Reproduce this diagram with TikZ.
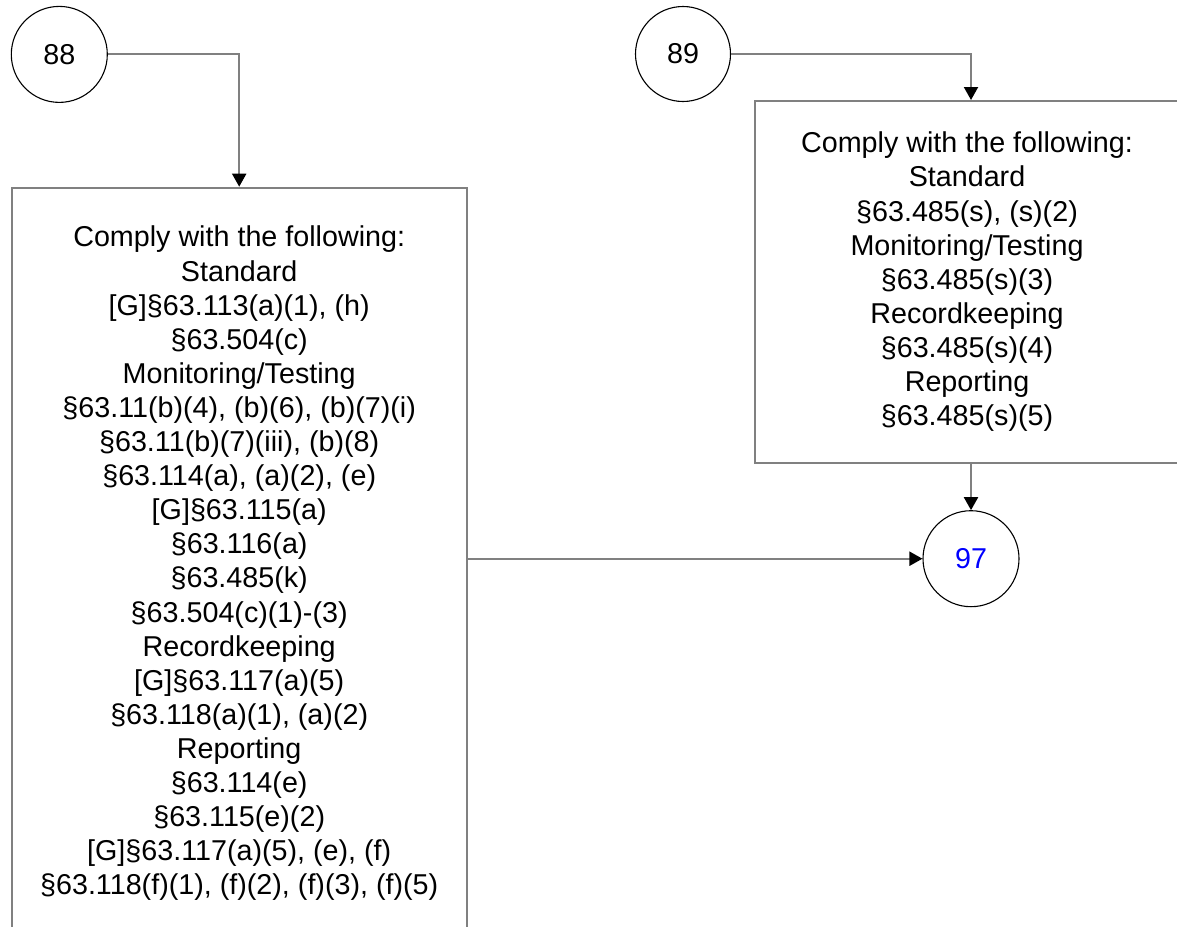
\documentclass[tikz,border=0pt]{standalone}
\usepackage{fontspec}
\setmainfont{Liberation Sans}
\usetikzlibrary{arrows.meta,calc}
\begin{document}
\begin{tikzpicture}[x=1pt,y=-1pt,
  every node/.style={font=\fontsize{28.7}{34.1}\selectfont},
  circ/.style={circle,draw=black,line width=1.1pt,minimum size=96pt,inner sep=0pt},
  box/.style={draw=gray,line width=2pt,align=center,inner sep=0pt},
  conn/.style={draw=gray,line width=2pt,-{Triangle[length=13pt,width=14pt,black]}}]
\useasboundingbox (0,0) rectangle (1177,926);
\clip (0,0) rectangle (1177,926);
\node[circ] (c88) at (59.3,54.4) {88};
\node[circ,minimum size=95pt] (c89) at (683,54) {89};
\node[circ,text=blue] (c97) at (971,558.7) {97};
\node[box,minimum width=455pt,minimum height=751.6pt] (left) at (239.2,563.5) {Comply with the following:\\Standard\\{}[G]§63.113(a)(1), (h)\\§63.504(c)\\Monitoring/Testing\\§63.11(b)(4), (b)(6), (b)(7)(i)\\§63.11(b)(7)(iii), (b)(8)\\§63.114(a), (a)(2), (e)\\{}[G]§63.115(a)\\§63.116(a)\\§63.485(k)\\§63.504(c)(1)-(3)\\Recordkeeping\\{}[G]§63.117(a)(5)\\§63.118(a)(1), (a)(2)\\Reporting\\§63.114(e)\\§63.115(e)(2)\\{}[G]§63.117(a)(5), (e), (f)\\§63.118(f)(1), (f)(2), (f)(3), (f)(5)};
\node[box,minimum width=424.6pt,minimum height=361.7pt] (right) at (967,281.85) {Comply with the following:\\Standard\\§63.485(s), (s)(2)\\Monitoring/Testing\\§63.485(s)(3)\\Recordkeeping\\§63.485(s)(4)\\Reporting\\§63.485(s)(5)};
\draw[conn] (c88.east) -| (left.north);
\draw[conn] (c89.east) -| (c97 |- right.north);
\draw[conn] (c97 |- right.south) -- (c97.north);
\draw[conn] (left.east |- c97) -- (c97.west);
\end{tikzpicture}
\end{document}
